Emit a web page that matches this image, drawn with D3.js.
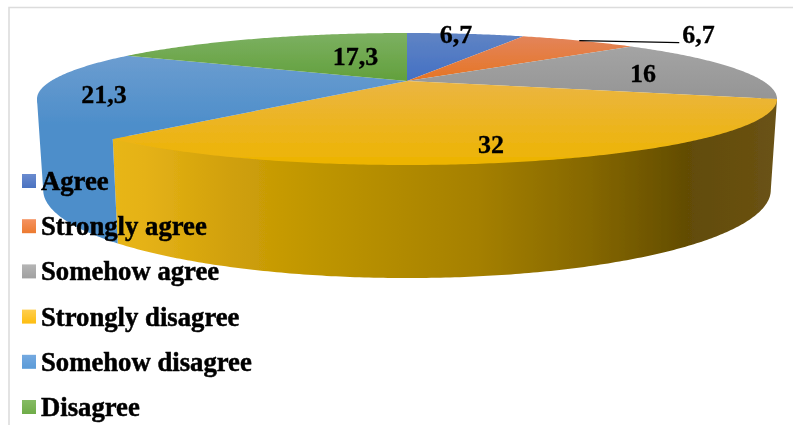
<!DOCTYPE html>
<html><head><meta charset="utf-8">
<script src="https://cdn.jsdelivr.net/npm/d3@7"></script>
<style>html,body{margin:0;padding:0;background:#fff;overflow:hidden}svg{display:block}</style>
</head><body><svg id="c" width="793" height="425"></svg>
<script>
const categories = ["Agree","Strongly agree","Somehow agree","Strongly disagree","Somehow disagree","Disagree"];
const values = [6.7,6.7,16,32,21.3,17.3];
const valueLabels = ["6,7","6,7","16","32","21,3","17,3"];
const topLight = ["#5f84c4","#e3845a","#a4a4a4","#ebb53f","#6c9dd0","#7cb061"];
const topDark  = ["#4470c4","#e67524","#959595","#edb400","#4d8eca","#62a03c"];
const topFrom = [33,36,46,85,55,34];
const topTo   = [81,81,99,165,125,81];
const legendLight = ["#6a8bcf","#f59260","#b5b5b5","#ffcf4f","#74a9e0","#85bb63"];
const legendDark  = ["#4a72c0","#ec7a30","#a0a0a0","#fdbd10","#5a9bd8","#6fac48"];
const wallStops = [[0,"#e8b61a"],[0.05,"#e5b216"],[0.18,"#d0a00a"],[0.315,"#be9500"],[0.55,"#a58000"],[0.715,"#866804"],[0.866,"#624c06"],[1,"#6a5215"]];
const labelR  = [0.8,1,0.71,0.68,0.83,0.3];
const labelDx = [0,103,0,0,0,0];
const labelDy = [1,2,10,24,12,-1];

const P = 0.2727;
const topDisk = {cx:407, cy:81, A:356, B:61.1};
const baseDisk = {cx:407, cy:166, A:350, B:81.5};
const sel = d3.select("#c");
const defs = sel.append("defs");
const blur = defs.append("filter").attr("id","soft").attr("x","-5%").attr("y","-5%").attr("width","110%").attr("height","110%");
blur.append("feGaussianBlur").attr("stdDeviation",0.5);
const grad = (id,a,b,y1,y2)=>{const g=defs.append("linearGradient").attr("id",id).attr("x1",0).attr("x2",0);
  if(y1===undefined){g.attr("y1",0).attr("y2",1);}else{g.attr("gradientUnits","userSpaceOnUse").attr("y1",y1).attr("y2",y2);}
  g.append("stop").attr("offset",0).attr("stop-color",a);g.append("stop").attr("offset",1).attr("stop-color",b);};
categories.forEach((c,i)=>{grad("top"+i,topLight[i],topDark[i],topFrom[i],topTo[i]);grad("leg"+i,legendLight[i],legendDark[i]);});
const wg = defs.append("linearGradient").attr("id","wall").attr("gradientUnits","userSpaceOnUse").attr("x1",111).attr("x2",777).attr("y1",0).attr("y2",0);
wallStops.forEach(s=>wg.append("stop").attr("offset",s[0]).attr("stop-color",s[1]));

const project=(d,ang,r=1)=>{const X=r*Math.sin(ang),Y=-r*Math.cos(ang),w=1-P*Y;return [d.cx+d.A*X/w,d.cy+d.B*Y/w];};
const pieLayout=d3.pie().sort(null).value(d=>d)(values);
const line=d3.line();
const samples=(a0,a1)=>{const n=Math.max(2,Math.ceil((a1-a0)/0.01));return d3.range(n+1).map(k=>a0+(a1-a0)*k/n);};
const tangent=Math.PI-Math.acos(P);
const g=sel.append("g").attr("filter","url(#soft)");

g.append("path").attr("d","M793,7.5H9V425").attr("fill","none").attr("stroke","#dcdcdc").attr("stroke-width",1.6);

const leftTan=2*Math.PI-tangent;
[[3,"url(#wall)"],[4,"url(#top4)"]].forEach(([i,fill])=>{
  const a0=Math.max(pieLayout[i].startAngle,tangent),a1=Math.min(pieLayout[i].endAngle,leftTan);
  const s=samples(a0,a1);
  // the upper side runs just inside the rim so the top face overlaps it and no seam shows
  const pts=[project(topDisk,a0)].concat(s.map(a=>project(topDisk,a,0.96)),[project(topDisk,a1)],s.slice().reverse().map(a=>project(baseDisk,a)));
  g.append("path").attr("d",line(pts)+"Z").attr("fill",fill);
});
pieLayout.forEach((p,i)=>{
  const pts=[project(topDisk,0,0)].concat(samples(p.startAngle,p.endAngle).map(a=>project(topDisk,a)));
  g.append("path").attr("d",line(pts)+"Z").attr("fill",`url(#top${i})`);
});
const mid=p=>(p.startAngle+p.endAngle)/2;
const rim=project(topDisk,mid(pieLayout[1]));
g.append("line").attr("x1",rim[0]).attr("y1",rim[1]).attr("x2",rim[0]+100).attr("y2",rim[1]+2).attr("stroke","#000").attr("stroke-width",1.1);
pieLayout.forEach((p,i)=>{
  const q=project(topDisk,mid(p),labelR[i]);
  g.append("text").attr("x",q[0]+labelDx[i]).attr("y",q[1]+labelDy[i])
   .attr("text-anchor",i===1?"start":"middle")
   .attr("font-family","'Liberation Serif',serif").attr("font-weight",700).attr("font-size",26).attr("fill","#000")
   .attr("stroke","#000").attr("stroke-width",0.3).text(valueLabels[i]);
});
const legY=d3.scalePoint().domain(categories).range([181,407]);
categories.forEach((c,i)=>{
  g.append("rect").attr("x",22).attr("y",legY(c)-7).attr("width",14).attr("height",14).attr("fill",`url(#leg${i})`);
  g.append("text").attr("x",41).attr("y",legY(c)+9).attr("font-family","'Liberation Serif',serif").attr("font-weight",700).attr("font-size",26.7)
    .attr("fill","#000").attr("stroke","#000").attr("stroke-width",0.5).text(c);
});
</script></body></html>
